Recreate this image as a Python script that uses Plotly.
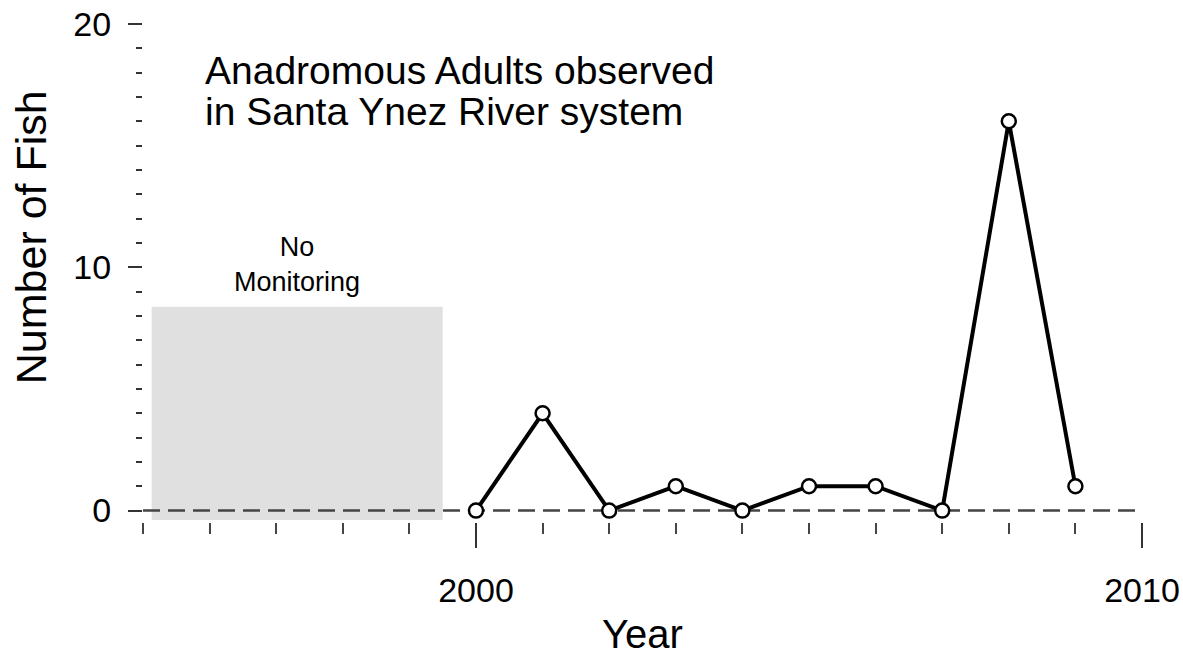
import plotly.graph_objects as go

# data
years = [2000, 2001, 2002, 2003, 2004, 2005, 2006, 2007, 2008, 2009]
fish = [0, 4, 0, 1, 0, 1, 1, 0, 16, 1]

x_range = [1995, 2010]
x_major = [2000, 2010]
x_minor = list(range(1995, 2011))
y_major = [0, 10, 20]

# unmonitored period (grey box)
gap_x = [1995.13, 1999.5]
gap_y = [-0.39, 8.38]

SANS = "Liberation Sans, Arial, sans-serif"

fig = go.Figure()

fig.add_shape(type="rect", x0=gap_x[0], x1=gap_x[1], y0=gap_y[0], y1=gap_y[1],
              fillcolor="#e0e0e0", line_width=0, layer="below")
fig.add_shape(type="line", x0=x_range[0], x1=x_range[1], y0=0, y1=0,
              line=dict(color="#444444", width=2.5, dash="17px,8px"), layer="below")

fig.add_trace(go.Scatter(
    x=years, y=fish, mode="lines+markers",
    line=dict(color="black", width=4),
    marker=dict(symbol="circle", size=14, color="white", line=dict(color="black", width=2.5)),
    cliponaxis=False, showlegend=False,
))

fig.add_annotation(x=1995.9, y=18.1, xref="x", yref="y", text="Anadromous Adults observed",
                   showarrow=False, xanchor="left", yanchor="middle",
                   font=dict(family=SANS, size=39, color="black"))
fig.add_annotation(x=1995.9, y=16.4, xref="x", yref="y", text="in Santa Ynez River system",
                   showarrow=False, xanchor="left", yanchor="middle",
                   font=dict(family=SANS, size=39, color="black"))
fig.add_annotation(x=sum(gap_x) / 2, y=10.1, xref="x", yref="y", text="No<br>Monitoring",
                   showarrow=False, xanchor="center", yanchor="middle",
                   font=dict(family=SANS, size=27, color="black"))
fig.add_annotation(x=-0.112, y=11.24, xref="paper", yref="y", text="Number of Fish",
                   showarrow=False, textangle=-90, xanchor="center", yanchor="middle",
                   font=dict(family=SANS, size=43, color="black"))

fig.update_xaxes(
    range=x_range, showgrid=False, zeroline=False, showline=False,
    tickmode="array", tickvals=x_major, ticktext=[str(v) for v in x_major],
    ticks="outside", ticklen=25, tickwidth=1.5, tickcolor="#333333",
    ticklabelstandoff=13, ticklabeloverflow="allow",
    tickfont=dict(family=SANS, size=34, color="black"),
    minor=dict(tickmode="array", tickvals=x_minor, ticks="outside", ticklen=11,
               tickwidth=1.5, tickcolor="#444444", showgrid=False),
    title=dict(text="Year", font=dict(family=SANS, size=40, color="black"), standoff=20),
)
fig.update_yaxes(
    range=[-0.47, 20.41], showgrid=False, zeroline=False, showline=False,
    tickmode="array", tickvals=y_major, ticktext=[str(v) for v in y_major],
    ticks="outside", ticklen=14, tickwidth=1.5, tickcolor="#333333",
    ticklabelstandoff=10, ticklabeloverflow="allow",
    tickfont=dict(family=SANS, size=34, color="black"),
    minor=dict(dtick=1, tick0=0, ticks="outside", ticklen=6, tickwidth=1.5,
               tickcolor="#333333", showgrid=False),
)

fig.update_layout(
    width=1183, height=656,
    margin=dict(l=143, r=41, t=14, b=134, autoexpand=False),
    plot_bgcolor="white", paper_bgcolor="white",
    showlegend=False,
)

# drop the browser's default 8px body margin so the figure fills the window
fig.write_html("out.html", config={"displayModeBar": False},
               post_script="document.body.style.margin='0px';")
